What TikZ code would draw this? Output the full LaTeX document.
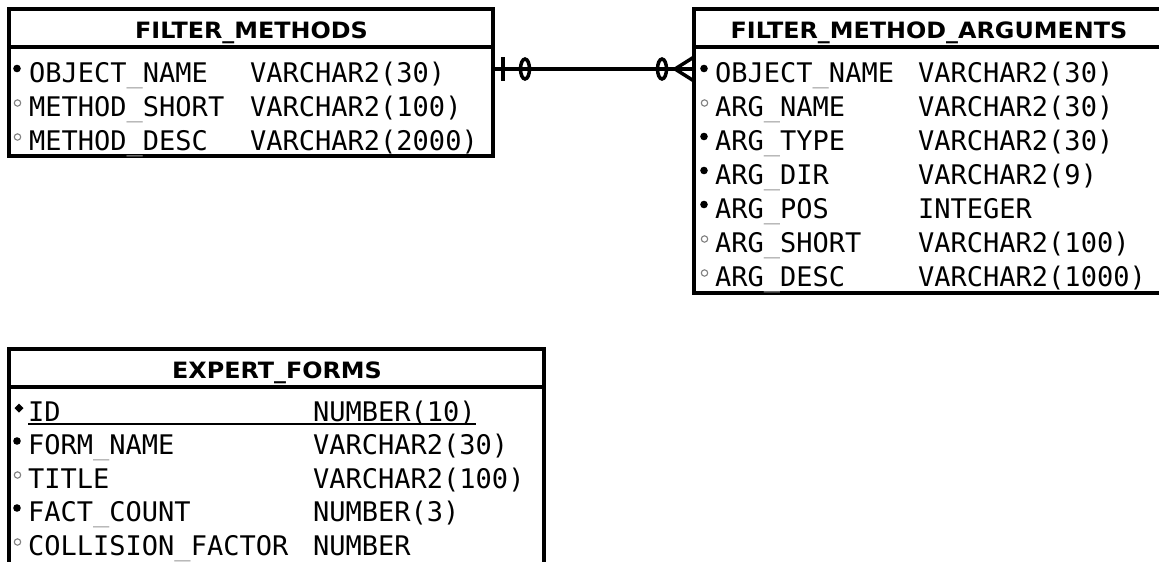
\documentclass[tikz,border=0pt]{standalone}
\usepackage{fontspec}
\newfontfamily\monofnt{DejaVu Sans Mono}
\newfontfamily\hdrfnt{DejaVu Sans}[FakeStretch=1.06]
\newcommand\us{{\color{black!40}\textunderscore}}
\tikzset{
  tbl/.style={draw=black, line width=3.5pt, anchor=north west, inner sep=0pt, outer sep=0pt},
  sep/.style={line width=3.5pt},
  attr/.style={anchor=base west, inner sep=0pt, font=\monofnt\fontsize{27}{27}\selectfont},
  hdr/.style={anchor=base, inner sep=0pt, font=\hdrfnt\bfseries\fontsize{22.5}{22.5}\selectfont},
  mand/.style={fill=black},
  opt/.style={draw=black!50, line width=1.1pt},
  rel/.style={line width=3.5pt},
}
\newcommand\mandpt[1]{\fill[mand] (#1) circle [radius=3.8pt];}
\newcommand\optpt[1]{\draw[opt] (#1) circle [radius=3.2pt];}
\begin{document}
\begin{tikzpicture}[x=1pt,y=-1pt]
\useasboundingbox (0,0) rectangle (1159,562);
\clip (0,0) rectangle (1159,562);
% ---------- FILTER_METHODS
\node[tbl, minimum width=484pt, minimum height=147pt] (fm) at (9,9) {};
\draw[sep] (fm.west |- 0,47) -- (fm.east |- 0,47);
\node[hdr] (fmh) at (251.5,38) {FILTER\_METHODS};
\coordinate (fmb1) at (17,68.5); \mandpt{fmb1}
\node[attr] (fm1n) at (29,82) {OBJECT\us NAME};
\node[attr] (fm1t) at (250,82) {VARCHAR2(30)};
\coordinate (fmb2) at (17.5,103); \optpt{fmb2}
\node[attr] (fm2n) at (29,116) {METHOD\us SHORT};
\node[attr] (fm2t) at (250,116) {VARCHAR2(100)};
\coordinate (fmb3) at (17.5,137); \optpt{fmb3}
\node[attr] (fm3n) at (29,150) {METHOD\us DESC};
\node[attr] (fm3t) at (250,150) {VARCHAR2(2000)};
% ---------- FILTER_METHOD_ARGUMENTS
\node[tbl, minimum width=470pt, minimum height=284pt] (fa) at (694,9) {};
\draw[sep] (fa.west |- 0,47) -- (fa.east |- 0,47);
\node[hdr] (fah) at (929,38) {FILTER\_METHOD\_ARGUMENTS};
\coordinate (fab1) at (704,68.5); \mandpt{fab1}
\node[attr] (fa1n) at (715,82) {OBJECT\us NAME};
\node[attr] (fa1t) at (918,82) {VARCHAR2(30)};
\coordinate (fab2) at (704.5,103); \optpt{fab2}
\node[attr] (fa2n) at (715,116) {ARG\us NAME};
\node[attr] (fa2t) at (918,116) {VARCHAR2(30)};
\coordinate (fab3) at (704,136.5); \mandpt{fab3}
\node[attr] (fa3n) at (715,150) {ARG\us TYPE};
\node[attr] (fa3t) at (918,150) {VARCHAR2(30)};
\coordinate (fab4) at (704,170.5); \mandpt{fab4}
\node[attr] (fa4n) at (715,184) {ARG\us DIR};
\node[attr] (fa4t) at (918,184) {VARCHAR2(9)};
\coordinate (fab5) at (704,204.5); \mandpt{fab5}
\node[attr] (fa5n) at (715,218) {ARG\us POS};
\node[attr] (fa5t) at (918,218) {INTEGER};
\coordinate (fab6) at (704.5,239); \optpt{fab6}
\node[attr] (fa6n) at (715,252) {ARG\us SHORT};
\node[attr] (fa6t) at (918,252) {VARCHAR2(100)};
\coordinate (fab7) at (704.5,273); \optpt{fab7}
\node[attr] (fa7n) at (715,286) {ARG\us DESC};
\node[attr] (fa7t) at (918,286) {VARCHAR2(1000)};
% ---------- EXPERT_FORMS
\node[tbl, minimum width=535pt, minimum height=260pt] (ef) at (9,349) {};
\draw[sep] (ef.west |- 0,387) -- (ef.east |- 0,387);
\node[hdr] (efh) at (277,378) {EXPERT\_FORMS};
\coordinate (efb1) at (19,408);
\fill (efb1) ++(-4.5,0) -- ++(4.5,-4.5) -- ++(4.5,4.5) -- ++(-4.5,4.5) -- cycle;
\node[attr] (ef1n) at (28,421) {ID};
\node[attr] (ef1t) at (313,421) {NUMBER(10)};
\draw[line width=1.5pt] (ef1n.base west) ++(0,3) coordinate (ulA) -- (ef1t.base east |- ulA);
\coordinate (efb2) at (17,441); \mandpt{efb2}
\node[attr] (ef2n) at (28,454.5) {FORM\us NAME};
\node[attr] (ef2t) at (313,454.5) {VARCHAR2(30)};
\coordinate (efb3) at (17.5,475); \optpt{efb3}
\node[attr] (ef3n) at (28,488) {TITLE};
\node[attr] (ef3t) at (313,488) {VARCHAR2(100)};
\coordinate (efb4) at (17,508); \mandpt{efb4}
\node[attr] (ef4n) at (28,521.5) {FACT\us COUNT};
\node[attr] (ef4t) at (313,521.5) {NUMBER(3)};
\coordinate (efb5) at (17.5,542); \optpt{efb5}
\node[attr] (ef5n) at (28,555) {COLLISION\us FACTOR};
\node[attr] (ef5t) at (313,555) {NUMBER};
% ---------- relationship
\coordinate (ra) at (fm.east |- 0,69);
\coordinate (rb) at (fa.west |- 0,69);
\draw[rel] (ra) -- (rb);
\draw[rel] (503,57) -- (503,81);
\draw[rel] (525,69) ellipse [x radius=4.5, y radius=10];
\draw[rel] (662,69) ellipse [x radius=4.5, y radius=10];
\draw[rel] (rb |- 0,57) -- (675,69) -- (rb |- 0,81);
\end{tikzpicture}
\end{document}
